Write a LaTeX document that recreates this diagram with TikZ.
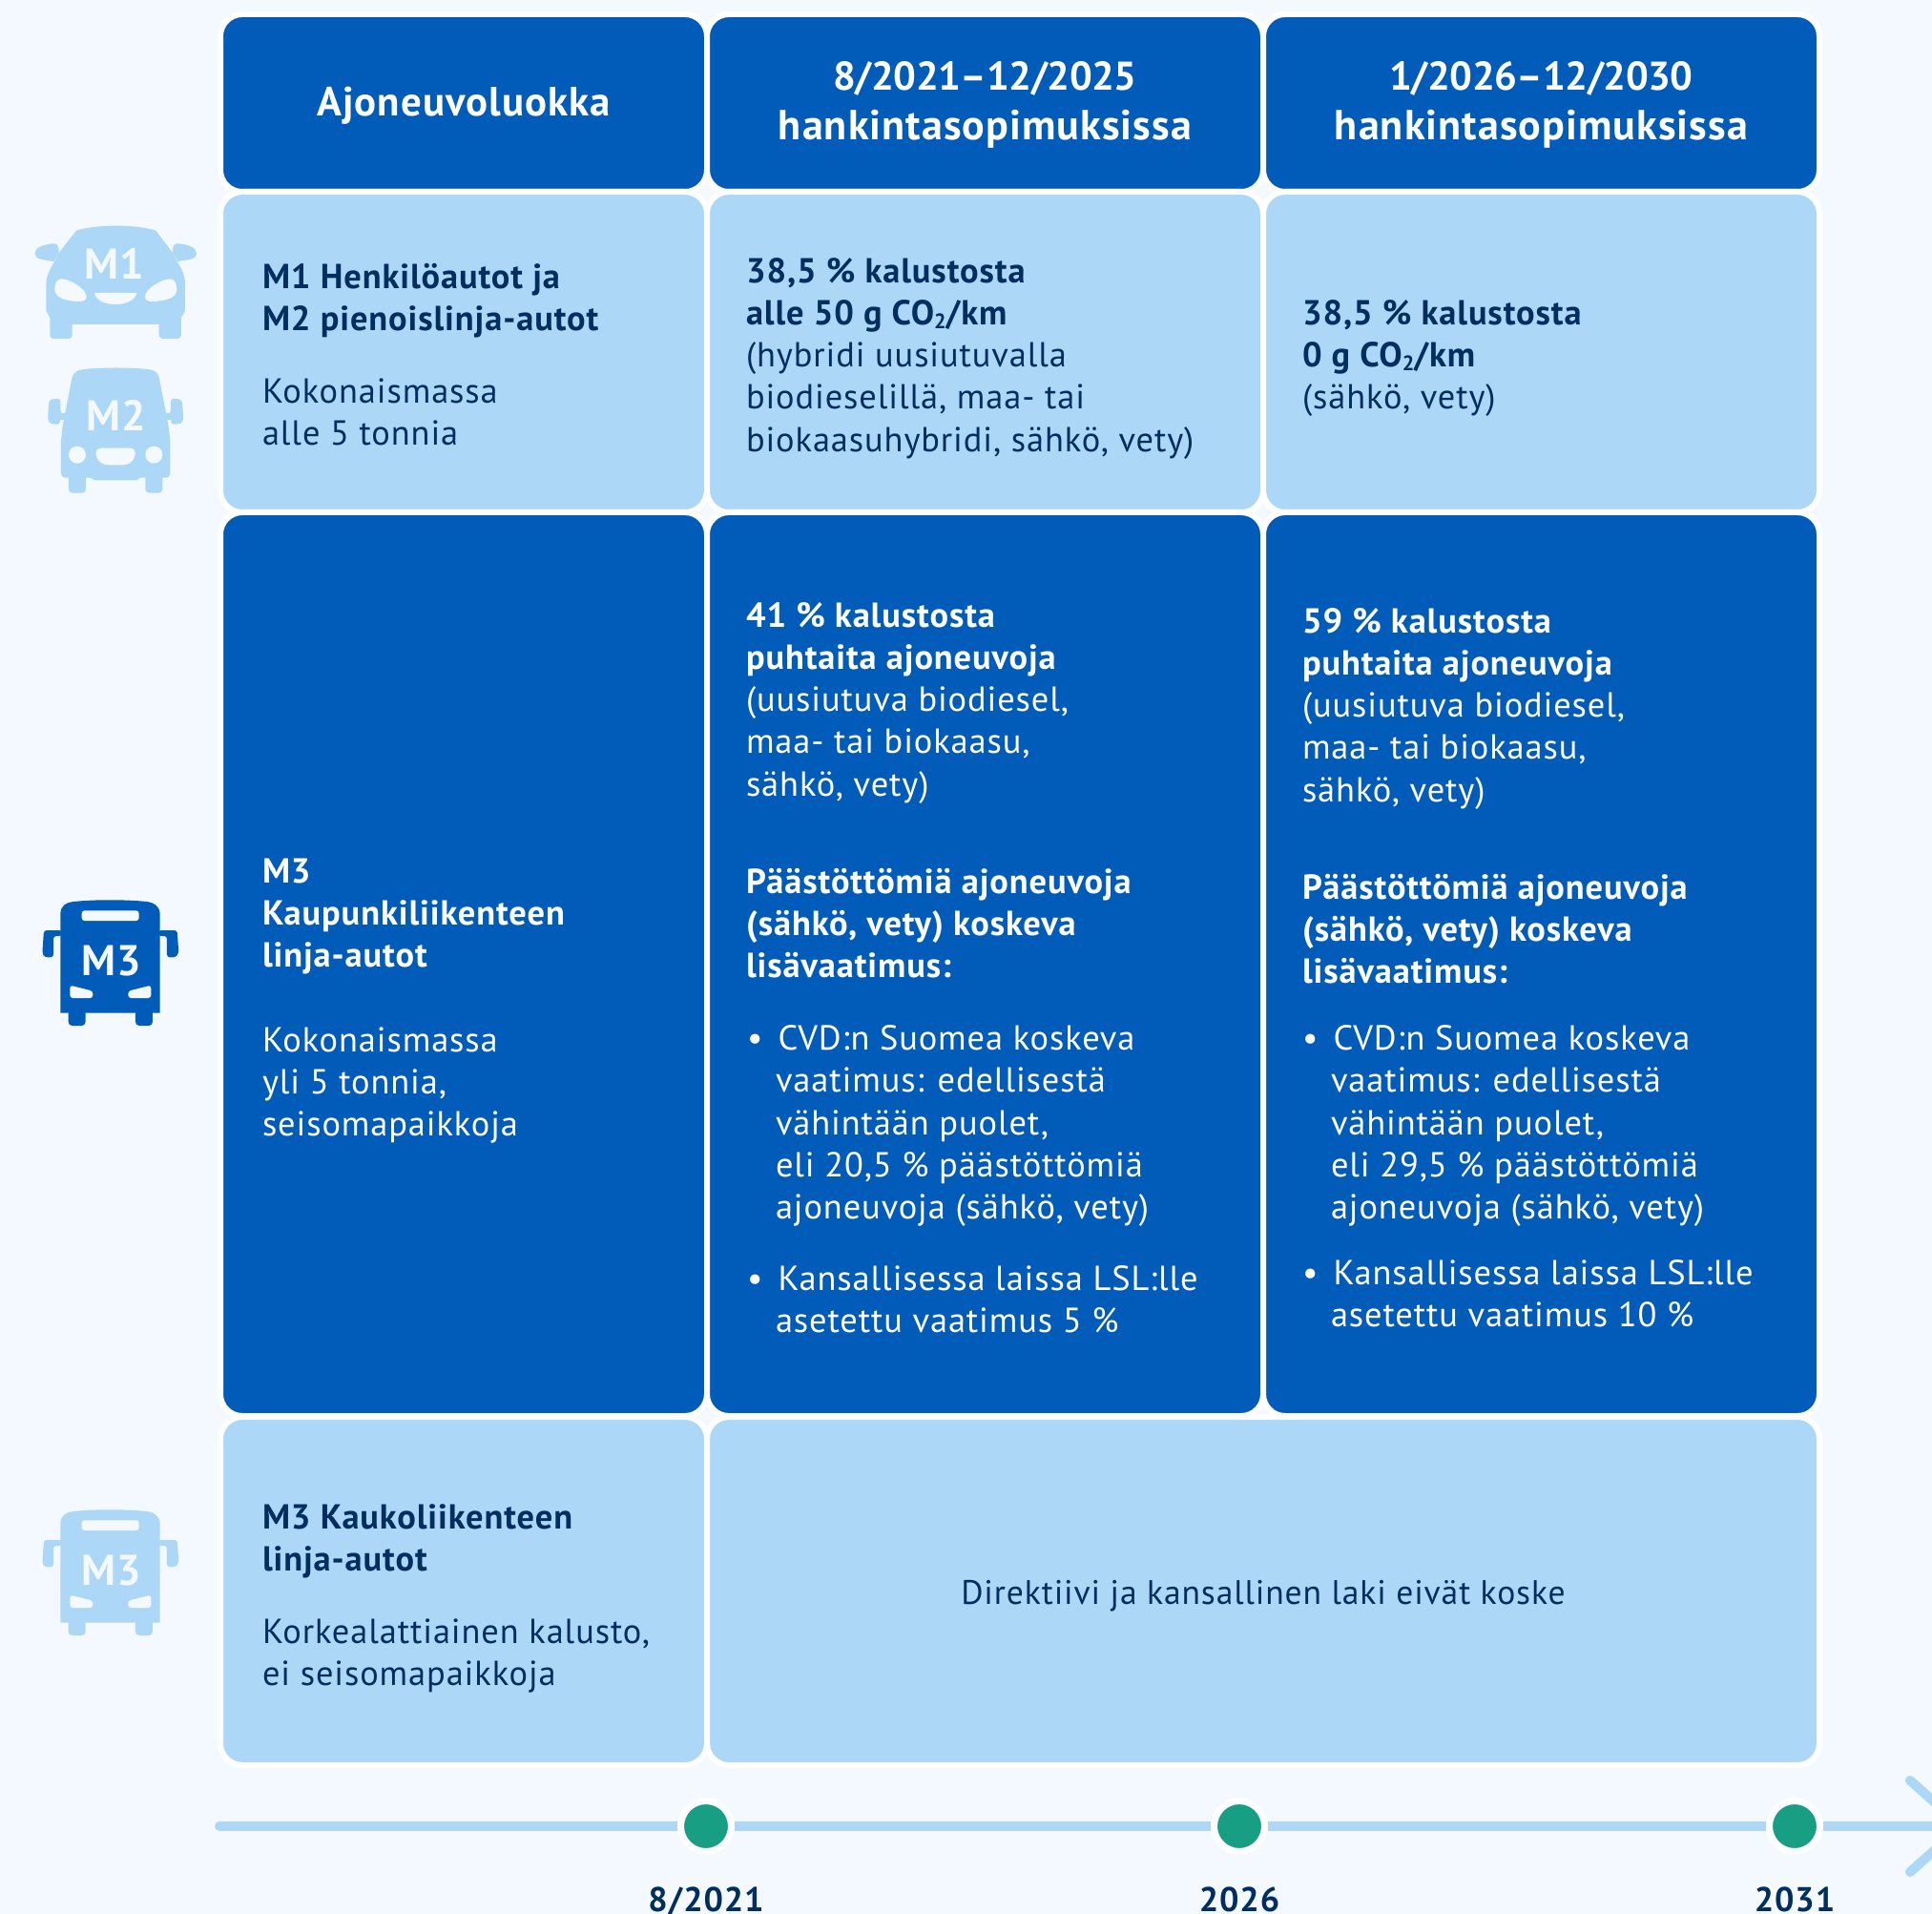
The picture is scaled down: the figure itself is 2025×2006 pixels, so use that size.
\documentclass[tikz,border=0pt]{standalone}
\usepackage{fontspec}
\setmainfont{PT Sans}[LetterSpace=2.5]
\definecolor{pagebg}{RGB}{244,249,255}
\definecolor{deep}{RGB}{0,92,184}
\definecolor{pale}{RGB}{173,215,247}
\definecolor{ink}{RGB}{0,47,95}
\definecolor{mint}{RGB}{24,158,130}
\newcommand{\bodyfont}{\fontsize{18.2}{22.15}\selectfont}
\newcommand{\COtwo}{CO\raisebox{-2pt}{\fontsize{11}{10}\selectfont 2}}
\newcommand{\dateline}[1]{{\fontsize{21}{25.8}\selectfont\addfontfeature{LetterSpace=-1}#1}}
\tikzset{
  gridbox/.style={rectangle,rounded corners=11.5pt,draw=white,line width=3pt,inner sep=0pt,outer sep=0pt},
  deepcell/.style={gridbox,fill=deep},
  palecell/.style={gridbox,fill=pale},
  blocktext/.style={anchor=north west,inner sep=0pt,outer sep=0pt,align=left,font=\bodyfont},
  inktext/.style={blocktext,text=ink},
  whitetext/.style={blocktext,text=white},
  headtext/.style={inner sep=0pt,align=center,text=white,font=\fontsize{22}{25.8}\selectfont\bfseries},
  yearlabel/.style={inner sep=0pt,anchor=base,text=ink,font=\fontsize{18}{22}\selectfont\bfseries},
  milestone/.style={circle,fill=mint,draw=white,line width=3.5pt,minimum size=26.5pt,inner sep=0pt,outer sep=1.75pt},
  tline/.style={pale,line width=5pt},
  tround/.style={tline,line cap=round,line join=miter},
  badge/.style={inner sep=0pt,font=\fontsize{22.5}{23}\selectfont\bfseries},
}
\newcommand{\gridcell}[6]{%
  \pgfmathsetmacro\cw{(#4-#2+6)*0.5}%
  \pgfmathsetmacro\ch{(#5-#3+6)*0.5}%
  \pgfmathsetmacro\cx{(#2+#4)/2}%
  \pgfmathsetmacro\cy{(#3+#5)/2}%
  \node[#6,minimum width=\cw pt,minimum height=\ch pt] (#1) at (\cx,\cy) {};}
\newcommand{\busicon}[3]{%
 \begin{scope}[shift={(20,#1)},scale=1/3]
  \fill[#2,rounded corners=1.5pt] (135,183) -- (108,183) -- (108,250) -- (80,250) -- (73,237) -- (78,165) -- (135,165) -- cycle;
  \fill[#2,rounded corners=1.5pt] (438,183) -- (465,183) -- (465,250) -- (492,250) -- (502,237) -- (497,165) -- (438,165) -- cycle;
  \fill[#2,rounded corners=2pt] (155,415) -- (155,465) -- (209,465) -- (209,415) -- cycle;
  \fill[#2,rounded corners=2pt] (366,415) -- (366,465) -- (420,465) -- (420,415) -- cycle;
  \fill[#2] (130,425) -- (130,115) .. controls (130,85) and (150,78) .. (170,75) .. controls (240,68) and (330,68) .. (403,75) .. controls (425,78) and (443,90) .. (443,115) -- (443,425) -- cycle;
  \fill[pagebg,rounded corners=1.5pt] (197,103) rectangle (377,135);
  \fill[pagebg,rounded corners=1.5pt] (160,338) -- (232,356) -- (232,378) -- (160,378) -- cycle;
  \fill[pagebg,rounded corners=1.5pt] (415,338) -- (343,356) -- (343,378) -- (415,378) -- cycle;
  \node[badge,text=pagebg] (#3) at (290,260) {M3};
 \end{scope}}
\begin{document}
\begin{tikzpicture}[x=0.5pt,y=-0.5pt]
\useasboundingbox (0,0) rectangle (2025,2006);
\fill[pagebg] (0,0) rectangle (2025,2006);
% grid
\gridcell{h1}{234}{18}{738}{198}{deepcell}
\gridcell{h2}{744}{18}{1321}{198}{deepcell}
\gridcell{h3}{1327}{18}{1904}{198}{deepcell}
\gridcell{a1}{234}{204}{738}{534}{palecell}
\gridcell{a2}{744}{204}{1321}{534}{palecell}
\gridcell{a3}{1327}{204}{1904}{534}{palecell}
\gridcell{b1}{234}{540}{738}{1481}{deepcell}
\gridcell{b2}{744}{540}{1321}{1481}{deepcell}
\gridcell{b3}{1327}{540}{1904}{1481}{deepcell}
\gridcell{c1}{234}{1488}{738}{1847}{palecell}
\gridcell{c2}{744}{1488}{1904}{1847}{palecell}
% headers
\node[headtext,font=\fontsize{21.4}{25.8}\selectfont\bfseries] (th1) at ([yshift=-1.5pt]h1) {Ajoneuvoluokka};
\node[headtext] (th2) at ([yshift=-1pt]h2) {\dateline{8/2021–12/2025}\\hankintasopimuksissa};
\node[headtext] (th3) at ([yshift=-1pt]h3) {\dateline{1/2026–12/2030}\\hankintasopimuksissa};
% row a
\node[inktext] (ta1) at (275,271) {\strut\textbf{M1 Henkilöautot ja}\\\textbf{M2 pienoislinja-autot}\\[16pt]Kokonaismassa\\alle 5 tonnia};
\node[inktext] (ta2) at (782,265) {\strut\textbf{38,5 \% kalustosta}\\\textbf{alle 50 g \COtwo/km}\\(hybridi uusiutuvalla\\biodieselillä, maa- tai\\biokaasuhybridi, sähkö, vety)};
\node[inktext] (ta3) at (1365,309) {\strut\textbf{38,5 \% kalustosta}\\\textbf{0 g \COtwo/km}\\(sähkö, vety)};
% row b
\node[whitetext] (tb1) at (275,894) {\strut\textbf{M3}\\\textbf{Kaupunkiliikenteen}\\\textbf{linja-autot}\\[22.15pt]Kokonaismassa\\yli 5 tonnia,\\seisomapaikkoja};
\node[whitetext] (tb2a) at (782,626) {\strut\textbf{41 \% kalustosta}\\\textbf{puhtaita ajoneuvoja}\\(uusiutuva biodiesel,\\maa- tai biokaasu,\\sähkö, vety)};
\node[whitetext] (tb2b) at (782,905) {\strut\textbf{Päästöttömiä ajoneuvoja}\\\textbf{(sähkö, vety) koskeva}\\\textbf{lisävaatimus:}};
\node[whitetext] (bu2a) at (783,1069.5) {\strut•};
\node[whitetext] (tb2c) at (813,1069.5) {\strut\hspace*{1.3pt}CVD:n Suomea koskeva\\vaatimus: edellisestä\\vähintään puolet,\\eli 20,5 \% päästöttömiä\\ajoneuvoja (sähkö, vety)};
\node[whitetext] (bu2b) at (783,1321) {\strut•};
\node[whitetext] (tb2d) at (813,1321) {\strut\hspace*{1.3pt}Kansallisessa laissa LSL:lle\\asetettu vaatimus 5 \%};
\node[whitetext] (tb3a) at (1365,632) {\strut\textbf{59 \% kalustosta}\\\textbf{puhtaita ajoneuvoja}\\(uusiutuva biodiesel,\\maa- tai biokaasu,\\sähkö, vety)};
\node[whitetext] (tb3b) at (1365,911) {\strut\textbf{Päästöttömiä ajoneuvoja}\\\textbf{(sähkö, vety) koskeva}\\\textbf{lisävaatimus:}};
\node[whitetext] (bu3a) at (1365,1069.5) {\strut•};
\node[whitetext] (tb3c) at (1395,1069.5) {\strut\hspace*{1.3pt}CVD:n Suomea koskeva\\vaatimus: edellisestä\\vähintään puolet,\\eli 29,5 \% päästöttömiä\\ajoneuvoja (sähkö, vety)};
\node[whitetext] (bu3b) at (1365,1315) {\strut•};
\node[whitetext] (tb3d) at (1395,1315) {\strut\hspace*{1.3pt}Kansallisessa laissa LSL:lle\\asetettu vaatimus 10 \%};
% row c
\node[inktext] (tc1) at (275,1571) {\strut\textbf{M3 Kaukoliikenteen}\\\textbf{linja-autot}\\[16pt]Korkealattiainen kalusto,\\ei seisomapaikkoja};
\node[inktext,anchor=center,align=center,font=\fontsize{17.8}{22}\selectfont] (tc2) at ([yshift=-2.5pt]c2) {Direktiivi ja kansallinen laki eivät koske};
% icons: car M1
\begin{scope}[shift={(0,200)},scale=1/3]
  \fill[pale] (240,125) .. controls (300,105) and (430,105) .. (490,125) -- (543,195) -- (558,225) .. controls (575,250) and (582,270) .. (582,295) -- (582,378) -- (570,398) -- (570,450) .. controls (570,460) and (565,465) .. (555,465) -- (515,465) .. controls (505,465) and (500,460) .. (500,450) -- (500,420) -- (227,420) -- (227,450) .. controls (227,460) and (222,465) .. (212,465) -- (172,465) .. controls (162,465) and (157,460) .. (157,450) -- (157,398) -- (145,378) -- (145,295) .. controls (145,270) and (155,250) .. (170,225) -- (185,195) -- cycle;
  \fill[pale] (185,195) .. controls (185,170) and (180,165) .. (165,166) .. controls (130,170) and (110,180) .. (110,197) .. controls (110,215) and (130,216) .. (170,222) -- cycle;
  \fill[pale] (543,195) .. controls (543,170) and (548,165) .. (563,166) .. controls (598,170) and (618,180) .. (618,197) .. controls (618,215) and (598,216) .. (558,222) -- cycle;
  \fill[pagebg] (195,277) .. controls (225,280) and (272,310) .. (272,333) .. controls (272,345) and (262,348) .. (245,348) .. controls (215,346) and (172,340) .. (172,310) .. controls (172,290) and (180,277) .. (195,277) -- cycle;
  \fill[pagebg] (533,277) .. controls (503,280) and (456,310) .. (456,333) .. controls (456,345) and (466,348) .. (483,348) .. controls (513,346) and (556,340) .. (556,310) .. controls (556,290) and (548,277) .. (533,277) -- cycle;
  \fill[pagebg] (297,321) -- (430,321) .. controls (425,345) and (395,357) .. (363,357) .. controls (331,357) and (302,345) .. (297,321) -- cycle;
  \node[badge,text=pagebg] (m1) at (360,228) {M1};
\end{scope}
% icon: van M2
\begin{scope}[shift={(0,200)},scale=1/3]
  \fill[pale,rounded corners=1.5pt] (215,702) -- (190,702) -- (188,735) -- (155,732) -- (150,715) -- (155,656) -- (190,653) -- (190,700) -- cycle;
  \fill[pale] (188,700) rectangle (215,720);
  \fill[pale,rounded corners=1.5pt] (512,702) -- (537,702) -- (539,735) -- (572,732) -- (577,715) -- (572,656) -- (537,653) -- (537,700) -- cycle;
  \fill[pale] (512,700) rectangle (539,720);
  \fill[pale,rounded corners=2pt] (216,890) -- (216,950) -- (270,950) -- (270,890) -- cycle;
  \fill[pale,rounded corners=2pt] (457,890) -- (457,950) -- (511,950) -- (511,890) -- cycle;
  \fill[pale] (226,590) .. controls (230,570) and (245,563) .. (265,561) .. controls (320,555) and (410,555) .. (465,561) .. controls (485,563) and (497,570) .. (501,590) -- (530,740) -- (535,785) -- (535,885) .. controls (535,895) and (530,902) .. (520,902) -- (442,902) -- (430,910) -- (297,910) -- (285,902) -- (207,902) .. controls (197,902) and (192,895) .. (192,885) -- (192,785) -- (197,740) -- cycle;
  \fill[pagebg] (243,830) circle[radius=27];
  \fill[pagebg] (484,830) circle[radius=27];
  \fill[pagebg] (320,809) -- (408,809) .. controls (422,809) and (427,820) .. (425,830) .. controls (420,855) and (400,862) .. (385,862) -- (343,862) .. controls (325,862) and (307,855) .. (302,830) .. controls (300,820) and (305,809) .. (320,809) -- cycle;
  \node[badge,text=pagebg] (m2) at (365,706) {M2};
\end{scope}
\busicon{920}{deep}{m3a}
\busicon{1559}{pale}{m3b}
% timeline
\coordinate (tstart) at (230,1914);
\coordinate (tstub) at (250,1914);
\coordinate (tend) at (2056,1914);
\coordinate (headu) at (2002,1866);
\coordinate (headd) at (2002,1962);
\node[milestone] (y1) at (740,1914) {};
\node[milestone] (y2) at (1299,1914) {};
\node[milestone] (y3) at (1881,1914) {};
\begin{scope}
\clip (0,0) rectangle (2025,2006);
\draw[tround] (tstart) -- (tstub);
\draw[tline] (tstub) -- (y1);
\draw[tline] (y1) -- (y2);
\draw[tline] (y2) -- (y3);
\draw[tline] (y3) -- (tend);
\draw[tround] (headu) -- (tend) -- (headd);
\end{scope}
\node[yearlabel] (l1) at (740,2003) {8/2021};
\node[yearlabel] (l2) at (1299,2003) {2026};
\node[yearlabel] (l3) at (1881,2003) {2031};
\end{tikzpicture}
\end{document}
